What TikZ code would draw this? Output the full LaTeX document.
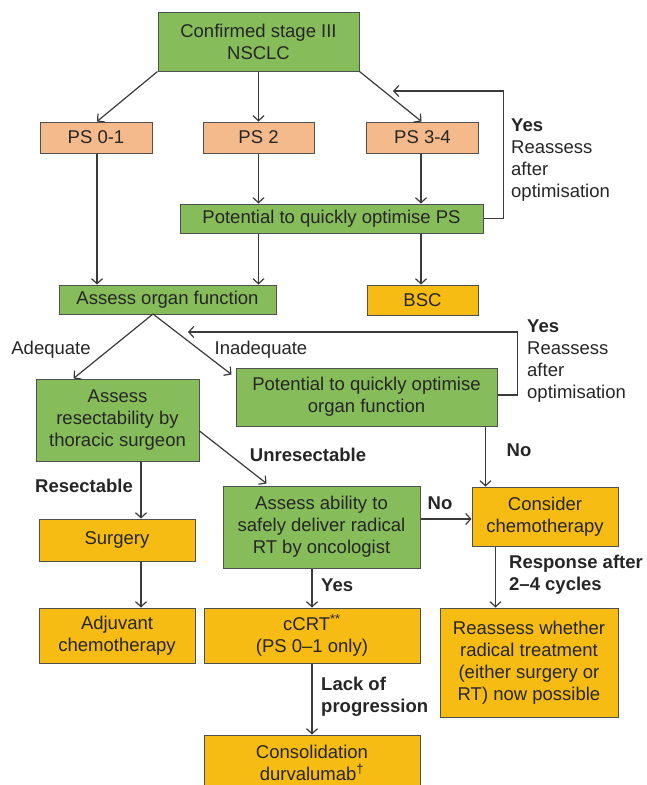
\documentclass[tikz,border=0pt]{standalone}
\usepackage{fontspec}
\setmainfont{Liberation Sans}
\usetikzlibrary{arrows.meta,calc}

\definecolor{boxgreen}{HTML}{86BC5A}
\definecolor{boxsalmon}{HTML}{F4BA8B}
\definecolor{boxyellow}{HTML}{F6BC14}
\definecolor{edgegray}{HTML}{505050}
\definecolor{linegray}{HTML}{3A3A3A}

\begin{document}
\begin{tikzpicture}[
    x=1pt, y=-1pt,
    every node/.style={font=\fontsize{18.5}{22}\selectfont, text=black!85},
    unit/.style={
        draw=edgegray,
        line width=1pt,
        align=center,
        inner sep=0pt
    },
    greenunit/.style={unit, fill=boxgreen},
    psunit/.style={unit, fill=boxsalmon},
    yellowunit/.style={unit, fill=boxyellow},
    arr/.style={-{Straight Barb[length=5pt,width=11pt]}, line width=1.2pt, draw=linegray},
    lbl/.style={inner sep=0pt, align=left},
    boldlbl/.style={lbl, font=\fontsize{18.5}{22}\selectfont\bfseries}
]
    \useasboundingbox (0,0) rectangle (646,785);

    % Start
    \node[greenunit, minimum width=201, minimum height=59] (confirmed) at (258.5,41.5) {Confirmed stage III\\ NSCLC};

    % Performance status
    \node[psunit, minimum width=112, minimum height=31] (ps01) at (96,137.5) {PS 0-1};
    \node[psunit, minimum width=111, minimum height=31] (ps2) at (258.5,137.5) {PS 2};
    \node[psunit, minimum width=112, minimum height=31] (ps34) at (422.5,137.5) {PS 3-4};

    \node[greenunit, minimum width=303, minimum height=29] (optps) at (331.5,218.5) {Potential to quickly optimise PS};

    \node[greenunit, minimum width=217, minimum height=29] (organ) at (167.5,299.5) {Assess organ function};
    \node[yellowunit, minimum width=111, minimum height=30] (bsc) at (422.5,300) {BSC};

    % Organ function
    \node[greenunit, minimum width=163, minimum height=82] (resect) at (117.5,420) {Assess\\ resectability by\\ thoracic surgeon};
    \node[greenunit, minimum width=261, minimum height=58] (optorgan) at (366.5,397) {Potential to quickly optimise\\ organ function};

    % Treatment
    \node[greenunit, minimum width=197, minimum height=82] (ability) at (321.5,527) {Assess ability to\\ safely deliver radical\\ RT by oncologist};
    \node[yellowunit, minimum width=146, minimum height=59] (consider) at (545,516.5) {Consider\\ chemotherapy};
    \node[yellowunit, minimum width=156, minimum height=42] (surgery) at (117,540) {Surgery};
    \node[yellowunit, minimum width=156, minimum height=55] (adjuvant) at (117,635.5) {Adjuvant\\ chemotherapy};
    \node[yellowunit, minimum width=216, minimum height=55] (ccrt) at (312,635.5) {cCRT\textsuperscript{**}\\ (PS 0–1 only)};
    \node[yellowunit, minimum width=178, minimum height=109] (reassess) at (529,662.5) {Reassess whether\\ radical treatment\\ (either surgery or\\ RT) now possible};
    \node[yellowunit, minimum width=216, minimum height=55] (consol) at (312,762.5) {Consolidation\\ durvalumab\textsuperscript{†}};

    % Return points
    \coordinate (psback) at (393,91);
    \coordinate (organback) at (188,332);
    \coordinate (fork) at (153,314);

    % Arrows
    \draw[arr] (confirmed.south west) -- ([xshift=1]ps01.north);
    \draw[arr] (confirmed.south) -- (ps2.north);
    \draw[arr] (confirmed.south east) -- ([xshift=-1]ps34.north);

    \draw[arr] ([xshift=1]ps01.south) -- ([xshift=1]ps01.south |- organ.north);
    \draw[arr] (ps2.south) -- (ps2.south |- optps.north);
    \draw[arr] ([xshift=-1.5]ps34.south) -- ([xshift=-1.5]ps34.south |- optps.north);
    \draw[arr] (ps2.south |- optps.south) -- (ps2.south |- organ.north);
    \draw[arr] ([xshift=-1.5]ps34.south |- optps.south) -- ([xshift=-1.5]bsc.north);
    \draw[arr] (optps.east) -- ++(20,0) |- (psback);

    \draw[arr] (fork) -- ([xshift=38]resect.north west);
    \draw[arr] (fork) -- ([xshift=-4,yshift=-7]optorgan.north west);
    \draw[arr] ([yshift=2]optorgan.east) -- ++(20,0) |- (organback);
    \draw[arr] ([xshift=14]consider.north west |- optorgan.south) -- ([xshift=14]consider.north west);

    \draw[arr] ([yshift=-11]resect.east) -- ([xshift=44,yshift=2]ability.north west);
    \draw[arr] ([xshift=23.5]resect.south) -- ([xshift=24]surgery.north);
    \draw[arr] ([xshift=24]surgery.south) -- ([xshift=24]adjuvant.north);
    \draw[arr] ([yshift=8]ability.east) -- ([yshift=8]ability.east -| consider.west);
    \draw[arr] ([xshift=-9.5]ability.south) -- (ccrt.north);
    \draw[arr] (ccrt.south) -- (consol.north);
    \draw[arr] ([xshift=24]consider.south west) -- ([xshift=24]consider.south west |- reassess.north);

    % Labels
    \node[lbl, anchor=north west] (psyes) at (511,119) {\textbf{Yes}\\ Reassess\\ after\\ optimisation};
    \node[lbl, anchor=north west] (organyes) at (527,320) {\textbf{Yes}\\ Reassess\\ after\\ optimisation};
    \node[lbl] (adequate) at (51,350) {Adequate};
    \node[lbl] (inadequate) at (261,350) {Inadequate};
    \node[boldlbl] (orgno) at (519,450) {No};
    \node[boldlbl] (unres) at (308,455) {Unresectable};
    \node[boldlbl] (res) at (84,486) {Resectable};
    \node[boldlbl] (abno) at (440,503) {No};
    \node[boldlbl, anchor=west] (abyes) at (321,585) {Yes};
    \node[boldlbl, anchor=north west] (lack) at (321,677) {Lack of\\ progression};
    \node[boldlbl, anchor=north west] (response) at (509,555) {Response after\\ 2–4 cycles};

\end{tikzpicture}
\end{document}
